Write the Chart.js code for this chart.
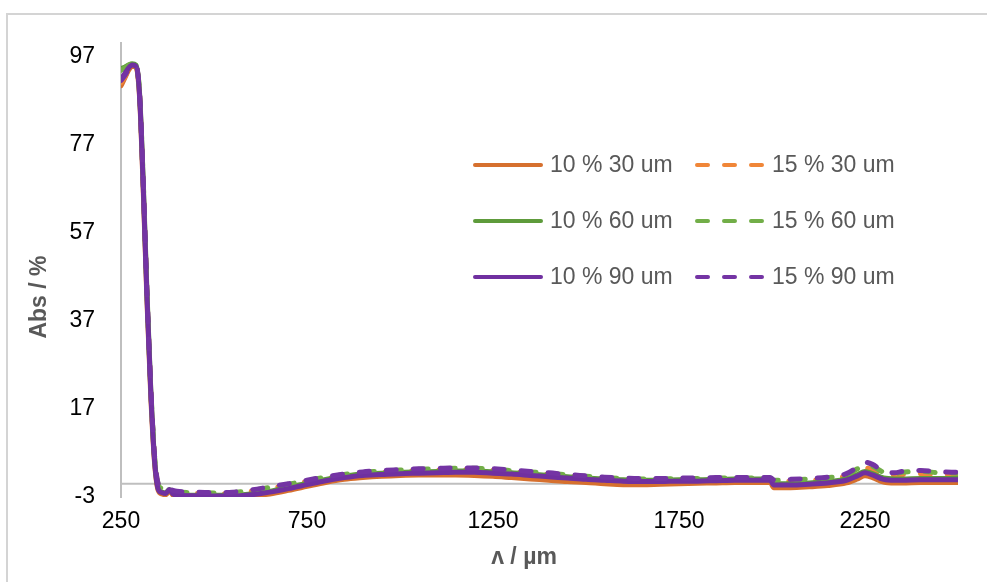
<!DOCTYPE html>
<html>
<head>
<meta charset="utf-8">
<title>Abs spectra</title>
<script src="https://cdn.jsdelivr.net/npm/chart.js@4.4.1/dist/chart.umd.min.js"></script>
<style>
  html, body { margin: 0; padding: 0; background: #ffffff; }
  #wrap { position: relative; width: 987px; height: 582px; }
</style>
</head>
<body>
<div id="wrap"><canvas id="chart"></canvas></div>
<script>
// Wavelength grid (x values) shared by all six spectra
const wavelengths = [250, 260, 270, 280, 290, 300, 310, 320, 330, 340, 350, 360, 370, 380, 390, 400,
  450, 500, 550, 600, 650, 700, 750, 800, 850, 900, 950, 1000, 1050, 1100, 1150, 1200, 1250, 1300,
  1350, 1400, 1450, 1500, 1550, 1600, 1650, 1700, 1750, 1800, 1850, 1900, 1950,
  1995, 2005, 2050, 2100, 2150, 2200, 2230, 2250, 2270, 2300, 2330, 2350, 2400, 2450, 2500];

// Absorbance (%) for each sample
const abs10_30 = [90.3, 92.0, 93.8, 94.7, 94.6, 87.5, 66, 41, 20, 5, -1.5, -2.3, -2.5, -1.6, -2.6, -2.9,
  -3.0, -3.0, -3.0, -2.8, -2.3, -1.5, -0.6, 0.3, 1.0, 1.4, 1.7, 1.9, 2.0, 2.0, 2.0, 1.9, 1.7, 1.4,
  1.1, 0.8, 0.5, 0.3, 0.0, -0.2, -0.2, -0.1, 0.0, 0.1, 0.2, 0.3, 0.3,
  0.3, -0.9, -0.9, -0.7, -0.4, 0.2, 1.1, 1.8, 1.4, 0.4, 0.2, 0.2, 0.3, 0.3, 0.3];
const abs15_30 = [91.0, 92.3, 93.8, 94.8, 94.7, 88.2, 67.5, 42.5, 21.5, 6.2, -0.3, -1.3, -1.6, -1.5, -1.8, -2.0,
  -2.2, -2.3, -2.2, -1.7, -1.0, -0.3, 0.5, 1.2, 1.8, 2.3, 2.6, 2.8, 3.0, 3.1, 3.2, 3.2, 3.0, 2.7,
  2.4, 2.1, 1.7, 1.4, 1.1, 0.9, 0.8, 0.8, 0.9, 0.9, 1.0, 1.0, 1.0,
  1.0, 0.5, 0.6, 0.8, 1.1, 1.8, 2.9, 3.6, 3.2, 2.1, 1.9, 2.1, 2.3, 2.1, 2.0];
const abs10_60 = [94.2, 94.5, 95.0, 95.3, 95.0, 88.5, 68, 43, 21.5, 6, -1.0, -1.9, -2.1, -1.3, -2.2, -2.5,
  -2.6, -2.6, -2.6, -2.3, -1.7, -0.8, 0.1, 1.0, 1.7, 2.2, 2.4, 2.6, 2.7, 2.8, 2.9, 2.9, 2.7, 2.5,
  2.2, 1.9, 1.6, 1.3, 1.1, 0.9, 0.8, 0.8, 0.9, 0.9, 1.0, 1.1, 1.1,
  1.1, 0.0, 0.0, 0.2, 0.5, 1.1, 2.1, 2.8, 2.3, 1.3, 1.1, 1.1, 1.2, 1.2, 1.2];
const abs15_60 = [93.8, 94.3, 94.9, 95.3, 95.0, 88.6, 68.2, 43.2, 22, 6.4, -0.1, -1.1, -1.4, -1.3, -1.6, -1.8,
  -2.0, -2.1, -2.0, -1.5, -0.8, -0.1, 0.7, 1.5, 2.1, 2.6, 2.9, 3.1, 3.3, 3.4, 3.5, 3.5, 3.3, 3.0,
  2.7, 2.4, 2.0, 1.7, 1.4, 1.2, 1.1, 1.1, 1.2, 1.2, 1.3, 1.3, 1.3,
  1.3, 0.8, 0.9, 1.1, 1.4, 2.1, 3.4, 4.4, 4.0, 2.6, 2.3, 2.6, 2.8, 2.5, 2.4];
const abs10_90 = [91.8, 93.0, 94.3, 95.0, 94.8, 88, 67, 42, 21, 5.5, -1.2, -2.0, -2.2, -1.3, -2.3, -2.6,
  -2.7, -2.8, -2.8, -2.5, -1.9, -1.1, -0.2, 0.7, 1.4, 1.9, 2.1, 2.3, 2.4, 2.5, 2.6, 2.6, 2.4, 2.2,
  1.9, 1.6, 1.3, 1.0, 0.8, 0.6, 0.5, 0.5, 0.6, 0.6, 0.7, 0.8, 0.8,
  0.8, -0.3, -0.3, -0.1, 0.2, 0.8, 1.8, 2.5, 2.0, 1.0, 0.8, 0.8, 0.9, 0.9, 0.9];
const abs15_90 = [91.5, 92.6, 94.0, 95.0, 94.9, 88.5, 68, 43, 22, 6.5, 0.0, -1.0, -1.3, -1.2, -1.5, -1.7,
  -1.9, -2.0, -1.9, -1.4, -0.7, 0.0, 0.8, 1.6, 2.2, 2.7, 3.0, 3.2, 3.4, 3.5, 3.6, 3.6, 3.4, 3.1,
  2.8, 2.5, 2.1, 1.8, 1.5, 1.3, 1.2, 1.2, 1.3, 1.3, 1.4, 1.4, 1.4,
  1.4, 0.9, 1.0, 1.2, 1.5, 2.3, 3.8, 4.9, 4.4, 2.8, 2.5, 2.8, 3.0, 2.7, 2.6];

const seriesNames = ['10 % 30 um', '15 % 30 um', '10 % 60 um', '15 % 60 um', '10 % 90 um', '15 % 90 um'];
const seriesValues = [abs10_30, abs15_30, abs10_60, abs15_60, abs10_90, abs15_90];
const seriesColors = ['#D6702E', '#F08638', '#5E9B3B', '#72AE48', '#7030A0', '#7434A4'];
const seriesDashed = [false, true, false, true, false, true];
// purple drawn on top, orange at the bottom
const seriesOrder = [5, 4, 3, 2, 1, 0];

const xTicks = [250, 750, 1250, 1750, 2250];
const yTicks = [-3, 17, 37, 57, 77, 97];

const xTitle = 'ʌ / µm';
const yTitle = 'Abs / %';

const FONT = "'Liberation Sans', Arial, sans-serif";
const AXIS_GREY = '#BFBFBF';

const datasets = seriesNames.map((name, i) => ({
  label: name,
  data: wavelengths.map((w, j) => ({ x: w, y: seriesValues[i][j] })),
  borderColor: seriesColors[i],
  backgroundColor: seriesColors[i],
  borderWidth: 5,
  borderDash: seriesDashed[i] ? [10, 17] : [],
  borderCapStyle: 'round',
  borderJoinStyle: 'round',
  pointRadius: 0,
  pointHoverRadius: 0,
  fill: false,
  cubicInterpolationMode: 'monotone',
  order: seriesOrder[i]
}));

// Frame, zero line, two-column legend and axis titles
const decorations = {
  id: 'decorations',
  beforeDraw(chart) {
    const ctx = chart.ctx;
    ctx.save();
    ctx.strokeStyle = '#D4D4D4';
    ctx.lineWidth = 2;
    ctx.strokeRect(7, 14, 1000, 600);
    ctx.restore();
  },
  beforeDatasetsDraw(chart) {
    const { ctx, chartArea, scales } = chart;
    const y0 = scales.y.getPixelForValue(0);
    ctx.save();
    ctx.strokeStyle = AXIS_GREY;
    ctx.lineWidth = 2;
    ctx.beginPath();
    ctx.moveTo(chartArea.left, y0);
    ctx.lineTo(chartArea.right, y0);
    ctx.stroke();
    ctx.restore();
  },
  afterDraw(chart) {
    const ctx = chart.ctx;
    ctx.save();
    // legend: 3 rows x 2 columns
    const rowY = [165, 221, 277];
    const colX = [475, 697];
    ctx.font = '23px ' + FONT;
    ctx.textBaseline = 'middle';
    ctx.textAlign = 'left';
    chart.data.datasets.forEach((ds, i) => {
      const row = Math.floor(i / 2), col = i % 2;
      const x = colX[col], y = rowY[row];
      ctx.strokeStyle = ds.borderColor;
      ctx.lineWidth = 4;
      ctx.lineCap = 'round';
      ctx.setLineDash(seriesDashed[i] ? [11, 16] : []);
      ctx.beginPath();
      ctx.moveTo(x, y);
      ctx.lineTo(x + 66, y);
      ctx.stroke();
      ctx.setLineDash([]);
      ctx.fillStyle = '#595959';
      ctx.fillText(ds.label, x + 75, y + 1);
    });
    // axis titles
    ctx.font = 'bold 23px ' + FONT;
    ctx.fillStyle = '#595959';
    ctx.textAlign = 'center';
    ctx.textBaseline = 'middle';
    ctx.fillText(xTitle, 524, 558);
    ctx.translate(40, 297);
    ctx.rotate(-Math.PI / 2);
    ctx.fillText(yTitle, 0, 0);
    ctx.restore();
  }
};

new Chart(document.getElementById('chart'), {
  type: 'line',
  data: { datasets },
  plugins: [decorations],
  options: {
    responsive: true,
    maintainAspectRatio: false,
    animation: false,
    events: [],
    layout: { padding: { top: 43, right: 29, bottom: 0, left: 0 } },
    plugins: { legend: { display: false }, tooltip: { enabled: false } },
    scales: {
      x: {
        type: 'linear',
        min: 250,
        max: 2500,
        afterBuildTicks: (s) => { s.ticks = xTicks.map(v => ({ value: v })); },
        afterFit: (s) => { s.height = 85; },
        grid: { display: false, drawTicks: false },
        border: { display: false },
        ticks: {
          padding: 11,
          color: '#000000',
          font: { family: FONT, size: 23 },
          maxRotation: 0,
          autoSkip: false,
          callback: (v) => String(v)
        }
      },
      y: {
        type: 'linear',
        min: -3,
        max: 100,
        afterBuildTicks: (s) => { s.ticks = yTicks.map(v => ({ value: v })); },
        afterFit: (s) => { s.width = 121; },
        grid: { display: false, drawTicks: false },
        border: { display: true, color: AXIS_GREY, width: 2 },
        ticks: {
          padding: 26,
          color: '#000000',
          font: { family: FONT, size: 23 },
          callback: (v) => String(v)
        }
      }
    }
  }
});
</script>
</body>
</html>
